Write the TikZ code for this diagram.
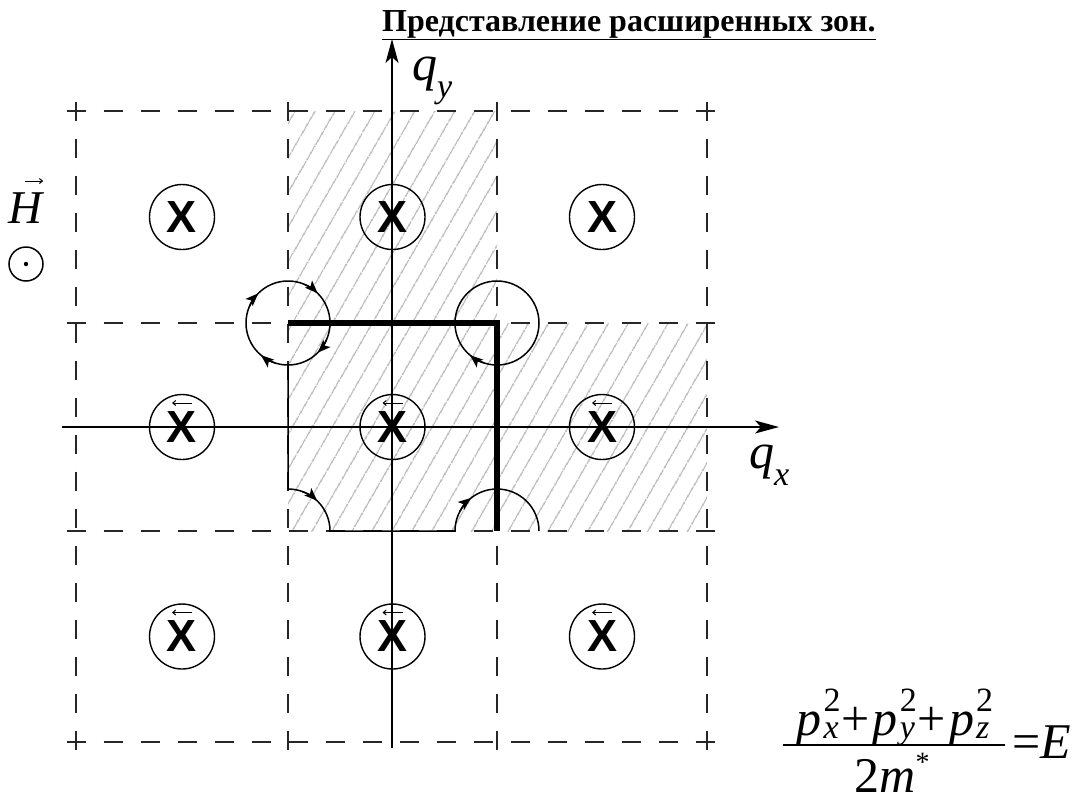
\documentclass[tikz,border=0pt]{standalone}
\usepackage{fontspec}
\setmainfont{Liberation Serif}
\newfontfamily\xfont{Liberation Sans}
\usetikzlibrary{arrows.meta,patterns.meta,calc}

\newcommand{\bigsz}{\fontsize{50}{50}\selectfont}
\newcommand{\subsz}{\fontsize{34}{34}\selectfont}
\newcommand{\qlbl}[1]{{\bigsz\itshape q}\raisebox{-17pt}{\subsz\itshape #1}}
\newcommand{\psq}[1]{{\itshape p}\kern2pt\rlap{\raisebox{24pt}{\subsz 2}}\raisebox{-3pt}{\subsz\itshape #1}}
\newcommand{\pplus}{\kern3pt+\kern3pt}

\begin{document}
\begin{tikzpicture}[x=1pt,y=1pt,
  grid/.style={line width=1.4pt, black!85, dash pattern=on 19pt off 18pt},
  axis/.style={line width=1.4pt, -{Stealth[length=24pt,width=13pt,inset=6pt]}},
  xcirc/.style={circle, draw, line width=1.4pt, minimum size=65pt, inner sep=0pt,
                font=\xfont\bfseries\fontsize{45}{45}\selectfont},
  orbit/.style={line width=1.5pt},
  tip/.style={line width=1.5pt, -{Stealth[length=13pt,width=10pt,inset=3pt]}},
  smallarr/.style={line width=1pt, -{Straight Barb[length=3pt,width=5pt]}},
  hatch/.style={pattern={Lines[angle=60,distance=17pt,line width=1.4pt]}, pattern color=black!30},
  lbl/.style={inner sep=0pt}
]
  \useasboundingbox (0,0) rectangle (1083,-804);

  \fill[hatch] (288,-111) rectangle (497,-531);
  \fill[hatch] (497,-323) rectangle (707,-531);

  \foreach \x in {76,288,497,707} \draw[grid] (\x,-101.5) -- (\x,-751.5);
  \foreach \y in {111,323,531,742} \draw[grid] (66.5,-\y) -- (716.5,-\y);

  \coordinate (xs) at (62,-427);  \coordinate (xe) at (779,-427);
  \coordinate (ys) at (392,-748); \coordinate (ye) at (392,-39);
  \draw[axis] (xs) -- (xe);
  \draw[axis] (ys) -- (ye);

  \node[lbl, anchor=base west] (title) at (382,-31)
    {\fontsize{32}{32}\selectfont\bfseries\underline{Представление расширенных зон.}};
  \node[lbl, anchor=base west] (qy) at (412,-80) {\qlbl{y}};
  \node[lbl, anchor=base west] (qx) at (749,-468) {\qlbl{x}};

  \foreach \c/\x in {1/182,2/392.5,3/602}
    \foreach \r/\y in {1/217,2/427,3/636.5}
      \node[xcirc] (c\r\c) at (\x,-\y) {X};
  \foreach \n in {21,22,23,31,32,33}
    \draw[smallarr] ($(c\n)+(10,24)$) -- ($(c\n)+(-10,24)$);

  \coordinate (A) at (288,-323); \coordinate (B) at (497,-323);
  \coordinate (C) at (288,-531); \coordinate (D) at (497,-531);
  \draw[orbit] (A) circle (42);
  \draw[orbit] (B) circle (42);
  \draw[orbit] ($(A)+(0,-42)$) -- ($(C)+(0,42)$) arc[start angle=90,end angle=0,radius=42]
    -- ($(D)+(-42,0)$) arc[start angle=180,end angle=0,radius=42];
  \foreach \a in {135,45,-45,-130}
    \draw[tip] ($(A)+(\a+22:42)$) arc[start angle=\a+22,end angle=\a,radius=42];
  \draw[tip] ($(B)+(-108:42)$) arc[start angle=-108,end angle=-130,radius=42];
  \draw[tip] ($(C)+(70:42)$) arc[start angle=70,end angle=46,radius=42];
  \draw[tip] ($(D)+(152:42)$) arc[start angle=152,end angle=128,radius=42];
  \draw[line width=6pt, line join=miter] (A) -- (B) -- (D);

  \node[lbl, anchor=base west] (H) at (8,-223) {\fontsize{47}{47}\selectfont\itshape H};
  \draw[smallarr] ($(H.north)+(0,11)$) -- ($(H.north)+(18,11)$);
  \node[circle, draw, line width=1.5pt, minimum size=34pt, inner sep=0pt] (Hdot) at (26,-264) {};
  \fill (Hdot.center) circle (2.2);

  \node[lbl, anchor=base] (num) at (893,-735) {\bigsz\psq{x}\pplus\psq{y}\pplus\psq{z}};
  \coordinate (fl) at (783,-745); \coordinate (fr) at (1005,-745);
  \draw[line width=1.6pt] (fl) -- (fr);
  \node[lbl, anchor=base] (den) at (892,-792)
    {\bigsz 2\textit{m}\raisebox{21pt}{\fontsize{28}{28}\selectfont *}};
  \node[lbl, anchor=base west] (eq) at (1012,-758) {\bigsz =\textit{E}};
\end{tikzpicture}
\end{document}
